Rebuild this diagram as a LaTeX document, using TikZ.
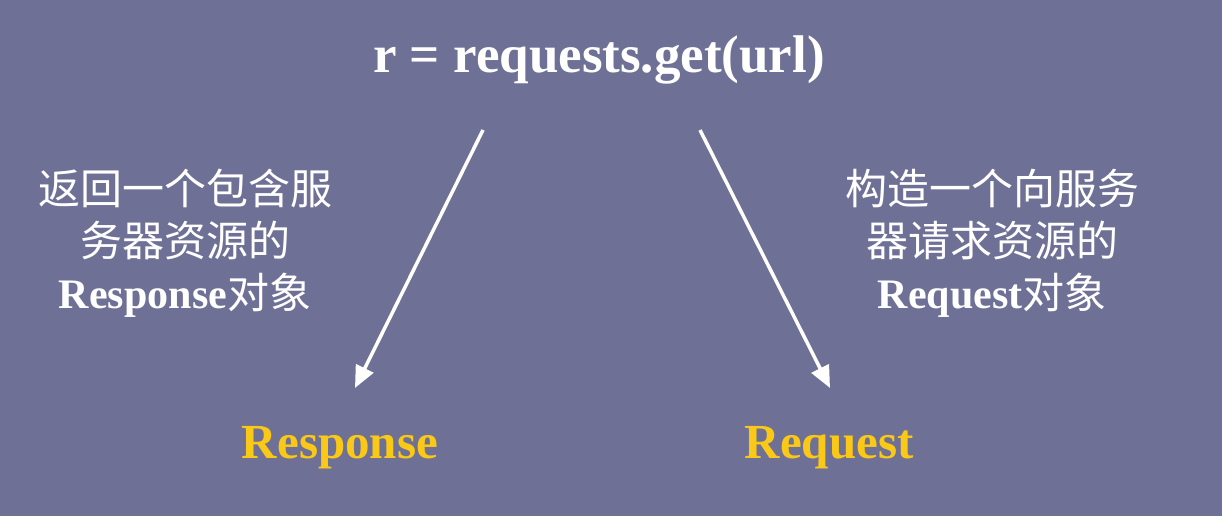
\documentclass[tikz,border=0pt]{standalone}
\usepackage{fontspec}
\setmainfont{Liberation Serif}
\newfontfamily\cjk{Noto Sans CJK SC}
\usetikzlibrary{arrows.meta}
\definecolor{bg}{RGB}{110,112,150}
\definecolor{gold}{RGB}{250,200,22}
\tikzset{
  title/.style={text=white,font=\fontsize{53}{60}\selectfont\bfseries,inner sep=0pt},
  desc/.style={text=white,align=center,inner sep=0pt,font=\fontsize{42}{52}\selectfont},
  label/.style={text=gold,font=\fontsize{49}{56}\selectfont\bfseries,inner sep=0pt},
  conn/.style={draw=white,line width=3.5pt,-{Triangle[length=22pt,width=19pt]}}
}
\begin{document}
\begin{tikzpicture}[x=1pt,y=-1pt]
\fill[bg] (0,0) rectangle (1222,516);
\useasboundingbox (0,0) rectangle (1222,516);
\node[title] (t) at (599,60) {r = requests.get(url)};
\coordinate (ls) at (483,130);
\coordinate (rs) at (700,130);
\node[label] (resp) at (340,448) {Response};
\node[label] (req) at (829,448) {Request};
\coordinate (le) at (355,388);
\coordinate (re) at (830,388);
\draw[conn] (ls) -- (le);
\draw[conn] (rs) -- (re);
\node[desc] (ld) at (185,243) {\cjk 返回一个包含服\\ \cjk 务器资源的\\ \textbf{Response}\cjk 对象};
\node[desc] (rd) at (992,243) {\cjk 构造一个向服务\\ \cjk 器请求资源的\\ \textbf{Request}\cjk 对象};
\end{tikzpicture}
\end{document}
